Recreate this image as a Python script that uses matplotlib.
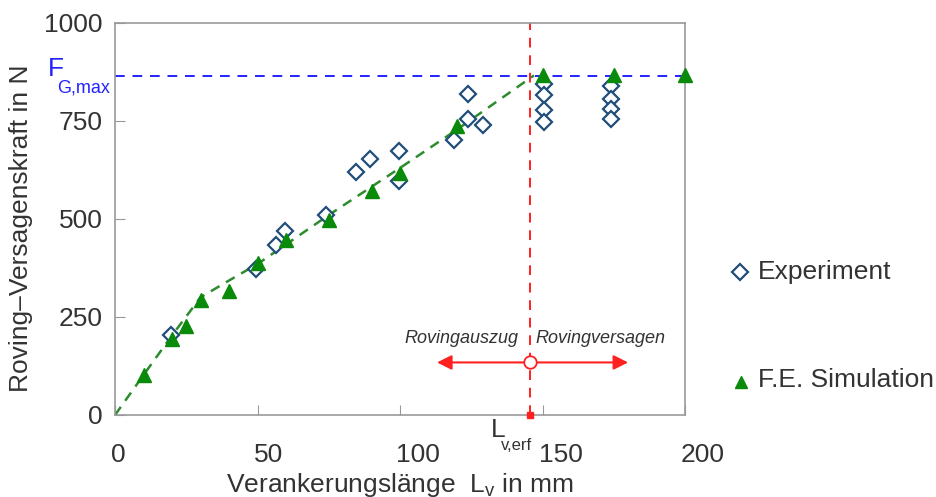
import matplotlib.pyplot as plt
from matplotlib.lines import Line2D
from matplotlib.transforms import ScaledTranslation

plt.rcParams['font.family'] = ['Liberation Sans', 'DejaVu Sans']

# Versuchsdaten (Experiment)
exp_x = [19.5, 49.5, 56.5, 59.5, 74, 84.5, 89.5, 99.5, 99.5, 119, 124, 124, 129,
         150.5, 150.5, 150.5, 150.5, 174, 174, 174, 174]
exp_y = [205, 372, 434, 468, 510, 620, 652, 673, 597, 701, 819, 755, 740,
         845, 817, 777, 746, 839, 805, 780, 755]

# F.E. Simulation
sim_x = [10, 20, 25, 30, 40, 50, 60, 75, 90, 100, 120, 150, 175, 200]
sim_y = [102, 195, 226, 293, 315, 387, 446, 498, 572, 618, 737, 868, 868, 868]

# Trendlinie
trend_x = [0, 10, 20, 30, 40, 50, 75, 100, 120, 147]
trend_y = [0, 102, 203, 300, 343, 385, 510, 630, 728, 866]

x_ticks = [0, 50, 100, 150, 200]
y_ticks = [0, 250, 500, 750, 1000]

F_G_max = 865
L_v_erf = 145.5
arrow_y = 134

fig = plt.figure(figsize=(9.36, 4.97), dpi=100)
ax = fig.add_axes([0.1229, 0.165, 0.609, 0.789])

txt = '#333333'
ax.axhline(F_G_max, color='#2222ff', ls=(0, (5, 4)), lw=1.4, zorder=1)
ax.axvline(L_v_erf, color='#ff2020', ls=(0, (5, 4)), lw=1.4, zorder=1)
ax.plot([L_v_erf], [0], 's', color='#ff2020', ms=4, clip_on=False, zorder=5)

ax.plot(trend_x, trend_y, color='#2e8b2e', ls=(0, (4, 3)), lw=1.8, zorder=2)
ax.plot(exp_x, exp_y, 'D', mfc='white', mec='#1f4e79', mew=1.6, ms=8.5, ls='none', zorder=3)
ax.plot(sim_x, sim_y, '^', color='#0a8a0a', ms=10, ls='none', zorder=4, clip_on=False)

# Pfeile Rovingauszug / Rovingversagen
ax.annotate('', xy=(112, arrow_y), xytext=(L_v_erf, arrow_y),
            arrowprops=dict(arrowstyle='-|>', color='#ff2020', lw=1.5, mutation_scale=22))
ax.annotate('', xy=(181, arrow_y), xytext=(L_v_erf, arrow_y),
            arrowprops=dict(arrowstyle='-|>', color='#ff2020', lw=1.5, mutation_scale=22))
ax.plot([L_v_erf], [arrow_y], 'o', mfc='white', mec='#ff2020', mew=1.3, ms=9, zorder=6)
ax.text(141.5, 196, 'Rovingauszug', style='italic', fontsize=13, color=txt, ha='right', va='center')
ax.text(147.5, 196, 'Rovingversagen', style='italic', fontsize=13, color=txt, ha='left', va='center')

ax.set_xlim(0, 200)
ax.set_ylim(0, 1000)
ax.set_xticks(x_ticks)
ax.set_xticklabels([str(v) for v in x_ticks], ha='left')
ax.set_yticks(y_ticks)
ax.tick_params(direction='in', length=7, color='#999999', labelsize=19, labelcolor=txt)
ax.tick_params(axis='x', pad=20)
ax.tick_params(axis='y', pad=9)
shift = ScaledTranslation(-4 / 100, 0, fig.dpi_scale_trans)
for lab in ax.get_xticklabels():
    lab.set_transform(lab.get_transform() + shift)
for s in ax.spines.values():
    s.set_color('#999999')
    s.set_linewidth(1.2)

ax.set_ylabel('Roving–Versagenskraft in N', fontsize=19, color=txt)
ax.yaxis.set_label_coords(-0.144, 0.477)
ax.set_xlabel(r'Verankerungslänge  L$_\mathregular{v}$ in mm', fontsize=19, color=txt, labelpad=3)

# F_G,max und L_v,erf Beschriftung
fig.text(48 / 936, 1 - 69 / 497, 'F', fontsize=19, color='#2222ff', va='center')
fig.text(57 / 936, 1 - 88 / 497, 'G,max', fontsize=13, color='#2222ff', va='center')
fig.text(491 / 936, 1 - 430 / 497, 'L', fontsize=19, color=txt, va='center')
fig.text(501 / 936, 1 - 446 / 497, 'v,erf', fontsize=12, color=txt, va='center')

# Legende
fig.add_artist(Line2D([740 / 936], [1 - 272 / 497], transform=fig.transFigure, marker='D',
                      mfc='white', mec='#1f4e79', mew=1.6, ms=8, ls='none'))
fig.text(758 / 936, 1 - 272 / 497, 'Experiment', fontsize=19, color=txt, va='center')
fig.add_artist(Line2D([741 / 936], [1 - 382 / 497], transform=fig.transFigure, marker='^',
                      color='#0a8a0a', ms=9, ls='none'))
fig.text(758 / 936, 1 - 380 / 497, 'F.E. Simulation', fontsize=19, color=txt, va='center')

plt.savefig('out.png', dpi=100)
